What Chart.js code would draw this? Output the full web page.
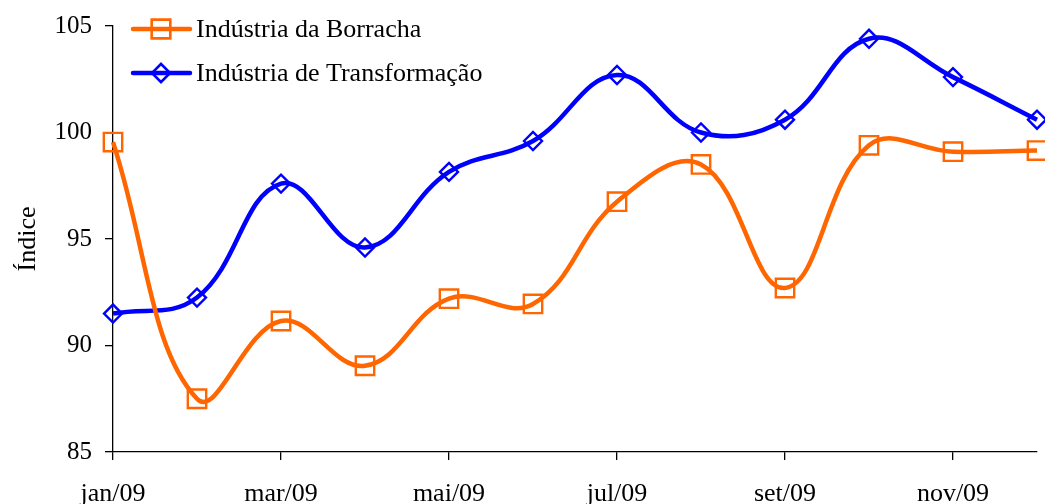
<!DOCTYPE html>
<html>
<head>
<meta charset="utf-8">
<script src="https://cdn.jsdelivr.net/npm/chart.js@4/dist/chart.umd.min.js"></script>
<style>
  html, body { margin: 0; padding: 0; background: #fff; }
  #wrap { width: 1045px; height: 504px; }
</style>
</head>
<body>
<div id="wrap"><canvas id="indexChart" width="1045" height="504"></canvas></div>
<script>
// months of 2009
var months = ['jan/09', 'fev/09', 'mar/09', 'abr/09', 'mai/09', 'jun/09',
              'jul/09', 'ago/09', 'set/09', 'out/09', 'nov/09', 'dez/09'];

// Índice values
var borracha = [99.55, 87.5, 91.15, 89.05, 92.2, 91.95, 96.75, 98.5, 92.7, 99.4, 99.1, 99.15];
var transformacao = [91.5, 92.25, 97.6, 94.6, 98.15, 99.6, 102.7, 100.0, 100.6, 104.4, 102.6, 100.6];

var yTicks = [85, 90, 95, 100, 105];

var serif = "'Liberation Serif', 'Times New Roman', serif";

// legend drawn inside the plot, top left, like the original
var legendPlugin = {
    id: 'insideLegend',
    afterDraw: function(chart) {
        var ctx = chart.ctx;
        var rows = [
            { y: 29, idx: 0 },
            { y: 73, idx: 1 }
        ];
        rows.forEach(function(r) {
            var ds = chart.data.datasets[r.idx];
            ctx.save();
            ctx.strokeStyle = ds.borderColor;
            ctx.lineWidth = 4.5;
            ctx.lineCap = 'round';
            ctx.beginPath();
            ctx.moveTo(133, r.y);
            ctx.lineTo(190, r.y);
            ctx.stroke();
            ctx.lineWidth = 2.4;
            Chart.helpers.drawPoint(ctx, {
                pointStyle: ds.pointStyle,
                radius: ds.pointRadius,
                borderWidth: 2.4
            }, 161, r.y);
            ctx.stroke();
            ctx.fillStyle = '#000';
            ctx.font = '26px ' + serif;
            ctx.textBaseline = 'middle';
            ctx.fillText(ds.label, 196, r.y + 1);
            ctx.restore();
        });
    }
};

var ctx = document.getElementById('indexChart').getContext('2d');
var chart = new Chart(ctx, {
    type: 'line',
    data: {
        labels: months,
        datasets: [{
            label: 'Indústria da Borracha',
            data: borracha,
            borderColor: '#FF6600',
            backgroundColor: 'rgba(0,0,0,0)',
            borderWidth: 4.5,
            tension: 0.4,
            pointStyle: 'rect',
            pointRadius: 13,
            pointBorderWidth: 2.4,
            pointBackgroundColor: 'rgba(0,0,0,0)',
            pointBorderColor: '#FF6600',
            clip: false
        }, {
            label: 'Indústria de Transformação',
            data: transformacao,
            borderColor: '#0000FF',
            backgroundColor: 'rgba(0,0,0,0)',
            borderWidth: 4.5,
            tension: 0.4,
            pointStyle: 'rectRot',
            pointRadius: 9,
            pointBorderWidth: 2.4,
            pointBackgroundColor: 'rgba(0,0,0,0)',
            pointBorderColor: '#0000FF',
            clip: false
        }]
    },
    options: {
        responsive: false,
        animation: false,
        layout: { autoPadding: false, padding: { top: 26, right: 8, left: 0, bottom: 0 } },
        plugins: {
            legend: { display: false },
            tooltip: { enabled: false }
        },
        scales: {
            x: {
                offset: false,
                afterFit: function(s) { s.height = 52; s.paddingRight = 0; s.paddingLeft = 0; },
                border: { display: true, color: '#000', width: 1.3 },
                grid: {
                    drawOnChartArea: false,
                    drawTicks: true,
                    tickLength: 8,
                    lineWidth: 1.3,
                    color: function(c) { return c.index % 2 === 0 ? '#000' : 'rgba(0,0,0,0)'; }
                },
                ticks: {
                    autoSkip: false,
                    maxRotation: 0,
                    padding: 19,
                    color: '#000',
                    font: { family: serif, size: 26 },
                    callback: function(v, i) { return i % 2 === 0 ? months[i] : ''; }
                }
            },
            y: {
                min: 85,
                max: 105,
                afterBuildTicks: function(s) {
                    s.ticks = yTicks.map(function(v) { return { value: v }; });
                },
                afterFit: function(s) { s.width = 113; s.paddingTop = 0; s.paddingBottom = 0; },
                border: { display: true, color: '#000', width: 1.3 },
                grid: {
                    drawOnChartArea: false,
                    drawTicks: true,
                    tickLength: 8,
                    lineWidth: 1.3,
                    color: '#000'
                },
                ticks: {
                    padding: 13,
                    color: '#000',
                    font: { family: serif, size: 25 }
                },
                title: {
                    display: true,
                    text: 'Índice',
                    color: '#000',
                    padding: { top: 13, bottom: 0 },
                    font: { family: serif, size: 26 }
                }
            }
        }
    },
    plugins: [legendPlugin]
});
</script>
</body>
</html>
